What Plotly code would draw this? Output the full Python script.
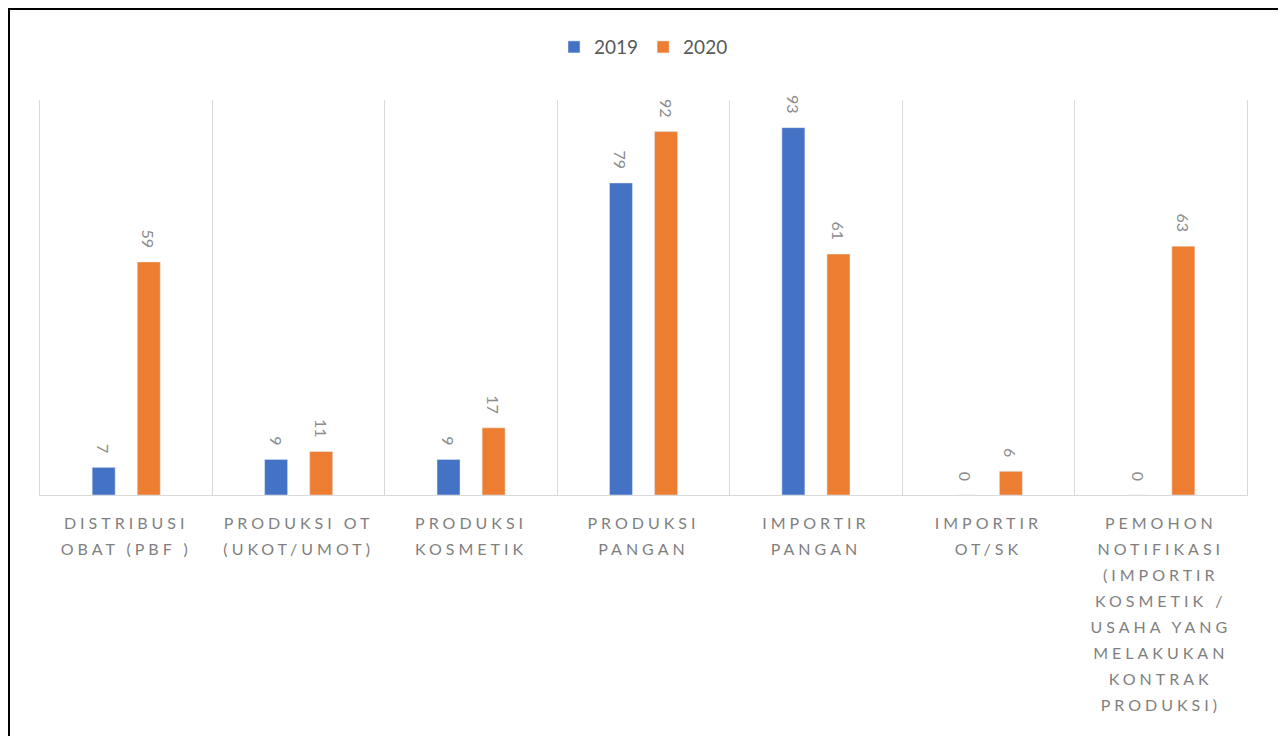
import plotly.graph_objects as go

categories = [
    "DISTRIBUSI<br>OBAT (PBF )",
    "PRODUKSI OT<br>(UKOT/UMOT)",
    "PRODUKSI<br>KOSMETIK",
    "PRODUKSI<br>PANGAN",
    "IMPORTIR<br>PANGAN",
    "IMPORTIR<br>OT/SK",
    "PEMOHON<br>NOTIFIKASI<br>(IMPORTIR<br>KOSMETIK /<br>USAHA YANG<br>MELAKUKAN<br>KONTRAK<br>PRODUKSI)",
]
values_2019 = [7, 9, 9, 79, 93, 0, 0]
values_2020 = [59, 11, 17, 92, 61, 6, 63]

FONT = "Lato"
fig = go.Figure()
for name, vals, col in [("2019", values_2019, "#4472C4"), ("2020", values_2020, "#ED7D31")]:
    fig.add_trace(go.Bar(name=name, x=categories, y=vals, marker_color=col,
                         text=vals, textposition="outside", textangle=90,
                         constraintext="none", cliponaxis=False,
                         textfont=dict(family=FONT, size=16, color="#8c8c8c")))

fig.update_layout(
    width=1286, height=736,
    margin=dict(l=32, r=47, t=92, b=249),
    paper_bgcolor="white", plot_bgcolor="white",
    barmode="group", bargap=0.477, bargroupgap=0.49,
    font=dict(family=FONT, color="#595959"),
    showlegend=True,
    legend=dict(orientation="h", x=0.5, xanchor="center", y=1.134, yanchor="middle",
                font=dict(family=FONT, size=19, color="#595959"), itemwidth=30),
    xaxis=dict(tickson="boundaries", showgrid=True, gridcolor="#d9d9d9", gridwidth=1,
               showline=True, linecolor="#d9d9d9", linewidth=1,
               ticks="", tickfont=dict(family=FONT, size=16, color="#7f7f7f"), tickangle=0),
    yaxis=dict(range=[0, 100], showgrid=False, zeroline=False, showticklabels=False,
               showline=True, mirror=True, linecolor="#d9d9d9", linewidth=1),
    shapes=[dict(type="rect", xref="paper", yref="paper",
                 x0=-0.0257, x1=1.0273, y0=-0.7, y1=1.2304,
                 line=dict(color="black", width=2), fillcolor="rgba(0,0,0,0)", layer="above")],
)

post = """
(function(){
  function fix(){
    var gd = document.getElementById('{plot_id}');
    if(!gd) return;
    gd.querySelectorAll('.xtick text').forEach(function(t){
      if(t.getAttribute('data-fixed')) return;
      t.style.letterSpacing = '4px';
      t.querySelectorAll('tspan.line').forEach(function(s){
        var dy = s.getAttribute('dy');
        if(dy && dy.indexOf('em') > 0){
          var v = parseFloat(dy);
          s.setAttribute('dy', (v/1.3*1.625) + 'em');
        }
      });
      var tr = t.getAttribute('transform') || '';
      t.setAttribute('transform', 'translate(0,14) ' + tr);
      t.setAttribute('data-fixed','1');
    });
    gd.querySelectorAll('.bars .point text').forEach(function(t){
      if(!t.getAttribute('data-fixed')){
        var tr = t.getAttribute('transform') || '';
        t.setAttribute('transform', 'translate(0,-11) ' + tr);
        t.setAttribute('data-fixed','1');
      }
    });
  }
  fix();
  setTimeout(fix, 50);
})();
"""

fig.write_html("out.html", post_script=post)
